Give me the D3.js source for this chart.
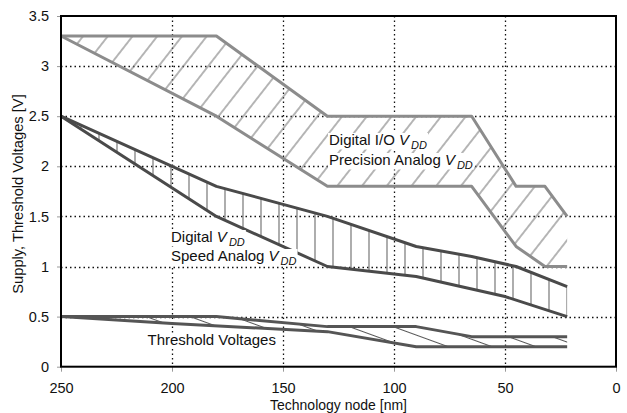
<!DOCTYPE html>
<html><head><meta charset="utf-8">
<script src="https://cdn.jsdelivr.net/npm/d3@7"></script>
<style>body{margin:0;background:#fff}svg{display:block}text{font-family:"Liberation Sans",Arial,sans-serif}</style>
</head><body><svg id="c" width="627" height="413"></svg>
<script>
// ---- data ----
const nodeTicks = [250, 200, 150, 100, 50, 0];
const voltTicks = [0, 0.5, 1, 1.5, 2, 2.5, 3, 3.5];
const gridNodes = [200, 150, 100, 50];
const gridVolts = [0.5, 1, 1.5, 2, 2.5, 3];

// Digital I/O / Precision analog VDD band
const ioTopNode = [250, 180, 130, 65, 45, 32, 22];
const ioTopV    = [3.3, 3.3, 2.5, 2.5, 1.8, 1.8, 1.5];
const ioBotNode = [250, 180, 130, 65, 45, 32, 22];
const ioBotV    = [3.3, 2.5, 1.8, 1.8, 1.2, 1.0, 1.0];

// Digital / Speed analog VDD band
const sdTopNode = [250, 180, 130, 90, 65, 45, 22];
const sdTopV    = [2.5, 1.8, 1.5, 1.2, 1.1, 1.0, 0.8];
const sdBotNode = [250, 180, 130, 90, 50, 22];
const sdBotV    = [2.5, 1.5, 1.0, 0.9, 0.7, 0.5];

// Threshold voltages band
const vtTopNode = [250, 180, 130, 90, 65, 22];
const vtTopV    = [0.5, 0.5, 0.4, 0.4, 0.3, 0.3];
const vtBotNode = [250, 200, 130, 90, 22];
const vtBotV    = [0.5, 0.43, 0.35, 0.2, 0.2];

// ---- chart ----
const svg = d3.select("#c");
const L = 61, R = 616, T = 16, B = 366.7;
const x = d3.scaleLinear().domain([250, 0]).range([L, R]);
const y = d3.scaleLinear().domain([0, 3.5]).range([B, T]);
const pts = (n, v) => n.map((d, i) => [d, v[i]]);
const line = d3.line().x(d => x(d[0])).y(d => y(d[1]));
const snap = v => Math.round(v) + 0.5;

const defs = svg.append("defs");
function hatch(id, w, angle, color, horizontal) {
  const p = defs.append("pattern").attr("id", id).attr("patternUnits", "userSpaceOnUse")
    .attr("width", horizontal ? 40 : w).attr("height", horizontal ? w : 40)
    .attr("patternTransform", `rotate(${angle})`);
  p.append("path").attr("d", horizontal ? `M0,${w/2}H40` : `M${w/2},0V40`)
    .attr("stroke", color).attr("stroke-width", 1.1).attr("fill", "none");
}
hatch("hIO", 19.5, 38, "#7a7a7a", false);
hatch("hSD", 18, 0, "#6a6a6a", false);
hatch("hVT", 15, 20, "#555", true);

// grid
const grid = svg.append("g").attr("stroke", "#111").attr("stroke-width", 1.3).attr("stroke-dasharray", "1.5,3");
grid.selectAll(".gv").data(gridNodes).join("line").attr("x1", d => snap(x(d))).attr("x2", d => snap(x(d))).attr("y1", T).attr("y2", B);
grid.selectAll(".gh").data(gridVolts).join("line").attr("y1", d => snap(y(d))).attr("y2", d => snap(y(d))).attr("x1", L).attr("x2", R);

// bands
const bands = [
  {top: pts(ioTopNode, ioTopV), bot: pts(ioBotNode, ioBotV), fill: "url(#hIO)", stroke: "#8c8c8c"},
  {top: pts(sdTopNode, sdTopV), bot: pts(sdBotNode, sdBotV), fill: "url(#hSD)", stroke: "#4a4a4a"},
  {top: pts(vtTopNode, vtTopV), bot: pts(vtBotNode, vtBotV), fill: "url(#hVT)", stroke: "#555"}
];
bands.forEach(b => {
  svg.append("path").attr("d", line(b.top.concat(b.bot.slice().reverse())) + "Z").attr("fill", b.fill);
});
bands.forEach(b => {
  [b.top, b.bot].forEach(p => svg.append("path").attr("d", line(p)).attr("fill", "none")
    .attr("stroke", b.stroke).attr("stroke-width", 3).attr("stroke-linejoin", "round"));
});

// labels
function label(xp, yp, parts) {
  const g = svg.append("g");
  const bg = g.append("rect").attr("fill", "#fff");
  const t = g.append("text").attr("x", xp).attr("y", yp).attr("font-size", 15).attr("fill", "#111");
  parts.forEach(p => {
    const s = t.append("tspan").text(p.t);
    if (p.i) s.attr("font-style", "italic");
    if (p.sub) s.attr("font-size", 11).attr("dy", 3.5).attr("dx", 2);
  });
  const bb = t.node().getBBox();
  bg.attr("x", bb.x - 1).attr("y", bb.y + 2).attr("width", bb.width + 2).attr("height", bb.height - 3);
}
label(329, 145, [{t: "Digital I/O "}, {t: "V", i: true}, {t: "DD", i: true, sub: true}]);
label(329, 165, [{t: "Precision Analog "}, {t: "V", i: true}, {t: "DD", i: true, sub: true}]);
label(171, 242, [{t: "Digital "}, {t: "V", i: true}, {t: "DD", i: true, sub: true}]);
label(171, 261, [{t: "Speed Analog "}, {t: "V", i: true}, {t: "DD", i: true, sub: true}]);
label(147.5, 345, [{t: "Threshold Voltages"}]);

// axes
const xa = svg.append("g").attr("transform", `translate(0,${B})`)
  .call(d3.axisBottom(x).tickValues(nodeTicks).tickSize(5).tickPadding(11).tickFormat(d3.format("d")));
const ya = svg.append("g").attr("transform", `translate(${L},0)`)
  .call(d3.axisLeft(y).tickValues(voltTicks).tickSize(4).tickPadding(8).tickFormat(d3.format("~g")));
[xa, ya].forEach(a => {
  a.select(".domain").remove();
  a.selectAll("text").attr("font-size", 14.5).attr("fill", "#111").attr("font-family", '"Liberation Sans",Arial,sans-serif');
  a.selectAll(".tick line").attr("stroke", "#999");
});
svg.append("rect").attr("x", L).attr("y", T).attr("width", R - L).attr("height", B - T)
  .attr("fill", "none").attr("stroke", "#000").attr("stroke-width", 2);

// titles
svg.append("text").attr("x", (L + R) / 2).attr("y", 409.5).attr("text-anchor", "middle")
  .attr("font-size", 14).attr("fill", "#111").text("Technology node [nm]");
svg.append("text").attr("transform", `translate(22.5,${194}) rotate(-90)`).attr("text-anchor", "middle")
  .attr("font-size", 14.7).attr("fill", "#111").text("Supply, Threshold Voltages [V]");
</script></body></html>
